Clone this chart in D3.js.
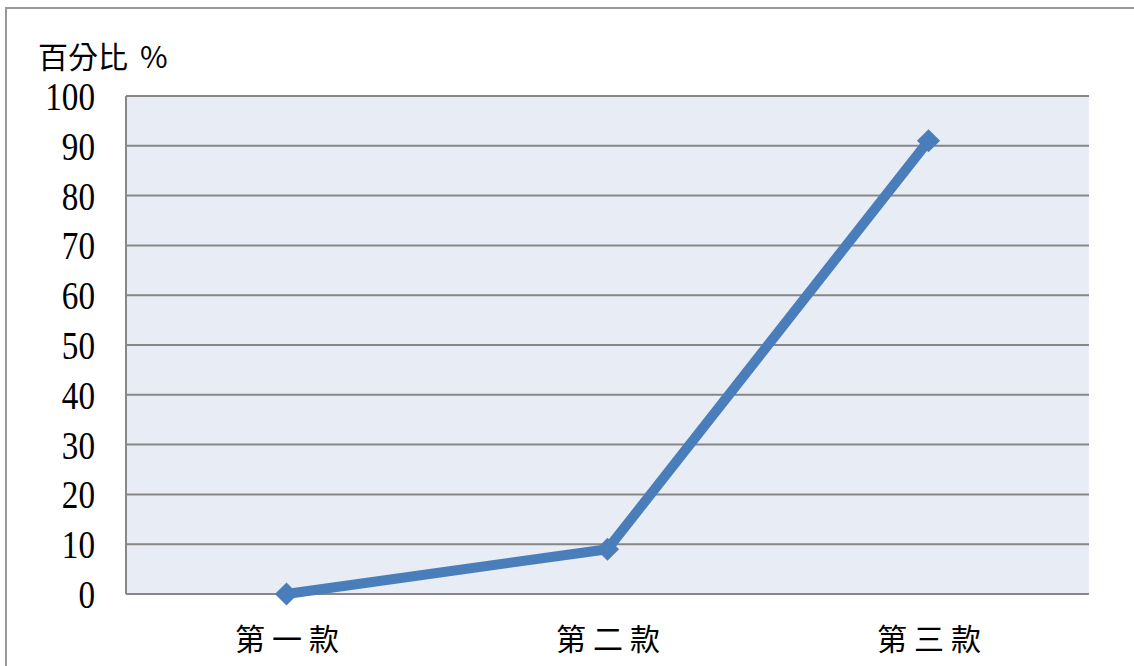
<!DOCTYPE html>
<html lang="zh-Hant">
    <head>
        <meta charset="utf-8">
        <title>D3</title>
        <script type="text/javascript" src="https://cdnjs.cloudflare.com/ajax/libs/d3/7.8.5/d3.min.js"></script>
        <style type="text/css">
            body { margin: 0; background: #fff; }
        </style>
    </head>
    <body>
        <script type="text/javascript">
            var w = 1134;
            var h = 666;

            var categories = ["第一款", "第二款", "第三款"];
            var values = [0, 9, 91];
            var yTicks = [0, 10, 20, 30, 40, 50, 60, 70, 80, 90, 100];
            var yLabel = ["百分比", "%"];

            var plotLeft = 126, plotRight = 1089, plotTop = 96, plotBottom = 594;

            var svg = d3.select("body")
                        .append("svg")
                        .attr("width", w)
                        .attr("height", h);

            // outer frame
            svg.append("path")
               .attr("d", "M6," + h + "V8H" + w)
               .attr("fill", "none")
               .attr("stroke", "#9a9a9a")
               .attr("stroke-width", 2);

            var x = d3.scaleBand()
                      .domain(categories)
                      .range([plotLeft, plotRight]);

            var y = d3.scaleLinear()
                      .domain([0, 100])
                      .range([plotBottom, plotTop]);

            svg.append("rect")
               .attr("x", plotLeft)
               .attr("y", plotTop)
               .attr("width", plotRight - plotLeft)
               .attr("height", plotBottom - plotTop)
               .attr("fill", "#e8ecf4");

            svg.selectAll("line.grid")
               .data(yTicks)
               .enter()
               .append("line")
               .attr("class", "grid")
               .attr("x1", plotLeft)
               .attr("x2", plotRight)
               .attr("y1", function(d) { return y(d); })
               .attr("y2", function(d) { return y(d); })
               .attr("stroke", "#878787")
               .attr("stroke-width", 2);

            // y axis line
            svg.append("line")
               .attr("x1", plotLeft).attr("x2", plotLeft)
               .attr("y1", plotTop).attr("y2", plotBottom)
               .attr("stroke", "#878787")
               .attr("stroke-width", 2);

            svg.selectAll("text.ytick")
               .data(yTicks)
               .enter()
               .append("text")
               .attr("class", "ytick")
               .attr("transform", function(d) {
                   return "translate(95," + (y(d) + 14) + ") scale(0.83,1)";
               })
               .attr("text-anchor", "end")
               .attr("font-family", "'Liberation Serif', serif")
               .attr("font-size", "40px")
               .attr("fill", "#000")
               .text(function(d) { return d; });

            svg.selectAll("text.xtick")
               .data(categories)
               .enter()
               .append("text")
               .attr("class", "xtick")
               .attr("x", function(d) { return x(d) + x.bandwidth() / 2 + 4; })
               .attr("y", 650)
               .attr("text-anchor", "middle")
               .attr("font-family", "'Noto Sans CJK TC', sans-serif")
               .attr("font-size", "30px")
               .attr("letter-spacing", "7px")
               .attr("fill", "#000")
               .text(function(d) { return d; });

            var lab = svg.append("text")
               .attr("x", 38)
               .attr("y", 68)
               .attr("font-family", "'Noto Sans CJK TC', sans-serif")
               .attr("font-size", "30px")
               .attr("fill", "#000");
            lab.append("tspan").text(yLabel[0]);
            lab.append("tspan").attr("dx", 12).text(yLabel[1]);

            var line = d3.line()
                         .x(function(d, i) { return x(categories[i]) + x.bandwidth() / 2; })
                         .y(function(d) { return y(d); });

            svg.append("path")
               .datum(values)
               .attr("d", line)
               .attr("fill", "none")
               .attr("stroke", "#4a7ebb")
               .attr("stroke-width", 10)
               .attr("stroke-linejoin", "round");

            svg.selectAll("path.marker")
               .data(values)
               .enter()
               .append("path")
               .attr("class", "marker")
               .attr("d", d3.symbol().type(d3.symbolDiamond2).size(340))
               .attr("transform", function(d, i) {
                   return "translate(" + (x(categories[i]) + x.bandwidth() / 2) + "," + y(d) + ")";
               })
               .attr("fill", "#4a7ebb");
        </script>
    </body>
</html>
